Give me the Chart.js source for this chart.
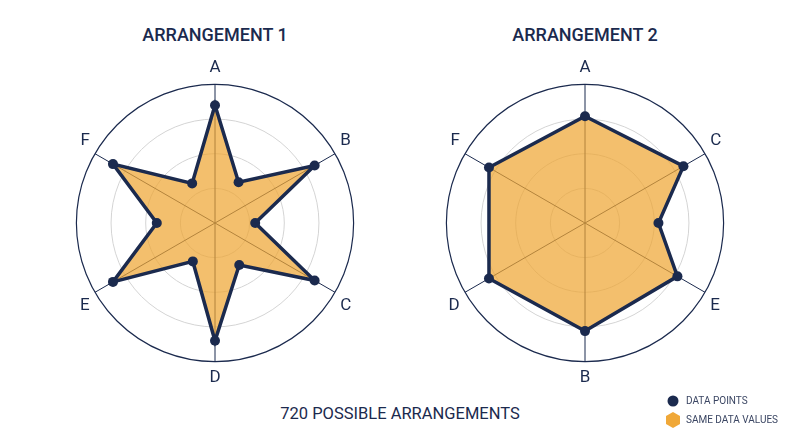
<!DOCTYPE html>
<html>
<head>
<meta charset="utf-8">
<script src="https://cdn.jsdelivr.net/npm/chart.js@4"></script>
<style>
  body { margin: 0; background: #fff; font-family: Roboto, sans-serif; color: #1b2a4e; }
  #page { position: relative; width: 800px; height: 447px; overflow: hidden; }
  .title { position: absolute; top: 24px; width: 300px; text-align: center; font-size: 18px; font-weight: 500; }
  .box { position: absolute; top: 58px; width: 380px; height: 330px; }
  #footer { position: absolute; top: 404px; left: 200px; width: 400px; text-align: center; font-size: 16.5px; }
  #legend { position: absolute; left: 664px; top: 391px; font-size: 10px; color: #3b4663; }
  .row { display: flex; align-items: center; height: 19px; }
  .row svg { margin-right: 4px; }
</style>
</head>
<body>
<div id="page">
  <div class="title" style="left:65px">ARRANGEMENT 1</div>
  <div class="title" style="left:435px">ARRANGEMENT 2</div>
  <div class="box" style="left:25px"><canvas id="chart1"></canvas></div>
  <div class="box" style="left:395px"><canvas id="chart2"></canvas></div>
  <div id="footer">720 POSSIBLE ARRANGEMENTS</div>
  <div id="legend">
    <div class="row">
      <svg width="18" height="18"><circle cx="9" cy="9" r="5.5" fill="#1b2a4e"/></svg>DATA POINTS
    </div>
    <div class="row">
      <svg width="18" height="18"><polygon points="9,1 16,5 16,13 9,17 2,13 2,5" fill="#f0a838"/></svg>SAME DATA VALUES
    </div>
  </div>
</div>
<script>
// axis letters, one per spoke; the slot between two spokes has no label
const axes1 = ['A', 'B', 'C', 'D', 'E', 'F'];
const axes2 = ['A', 'C', 'E', 'B', 'D', 'F'];

// 12 slots clockwise from the top: spoke, gap, spoke, gap...
const values1 = [85, 34, 83, 29, 83, 35, 85, 32, 85, 42, 85, 33];
const values2 = [77, null, 82, 53, 77, null, 78, null, 80, null, 80, null];

const navy = '#1b2a4e';
const fillColor = 'rgba(238, 166, 52, 0.72)';

function slotLabels(axes) {
    const out = [];
    axes.forEach(a => { out.push(a); out.push(''); });
    return out;
}

function makeRadar(id, axes, values) {
    new Chart(document.getElementById(id), {
        type: 'radar',
        data: {
            labels: slotLabels(axes),
            datasets: [{
                data: values,
                spanGaps: true,
                fill: true,
                backgroundColor: fillColor,
                borderColor: navy,
                borderWidth: 3.5,
                borderJoinStyle: 'miter',
                pointRadius: 5,
                pointBackgroundColor: navy,
                pointBorderWidth: 0
            }]
        },
        options: {
            responsive: true,
            maintainAspectRatio: false,
            animation: false,
            plugins: {
                legend: { display: false },
                tooltip: { enabled: false }
            },
            scales: {
                r: {
                    min: 0,
                    max: 100,
                    ticks: { stepSize: 25, display: false },
                    grid: {
                        circular: true,
                        color: ctx => ctx.tick && ctx.tick.value === 100 ? navy : '#d4d4d4',
                        lineWidth: ctx => ctx.tick && ctx.tick.value === 100 ? 1.2 : 1
                    },
                    angleLines: {
                        color: ctx => ctx.index % 2 === 0 ? navy : 'transparent',
                        lineWidth: 1
                    },
                    pointLabels: {
                        color: navy,
                        padding: 6,
                        font: { family: 'Roboto', size: 17 }
                    }
                }
            }
        }
    });
}

makeRadar('chart1', axes1, values1);
makeRadar('chart2', axes2, values2);
</script>
</body>
</html>
